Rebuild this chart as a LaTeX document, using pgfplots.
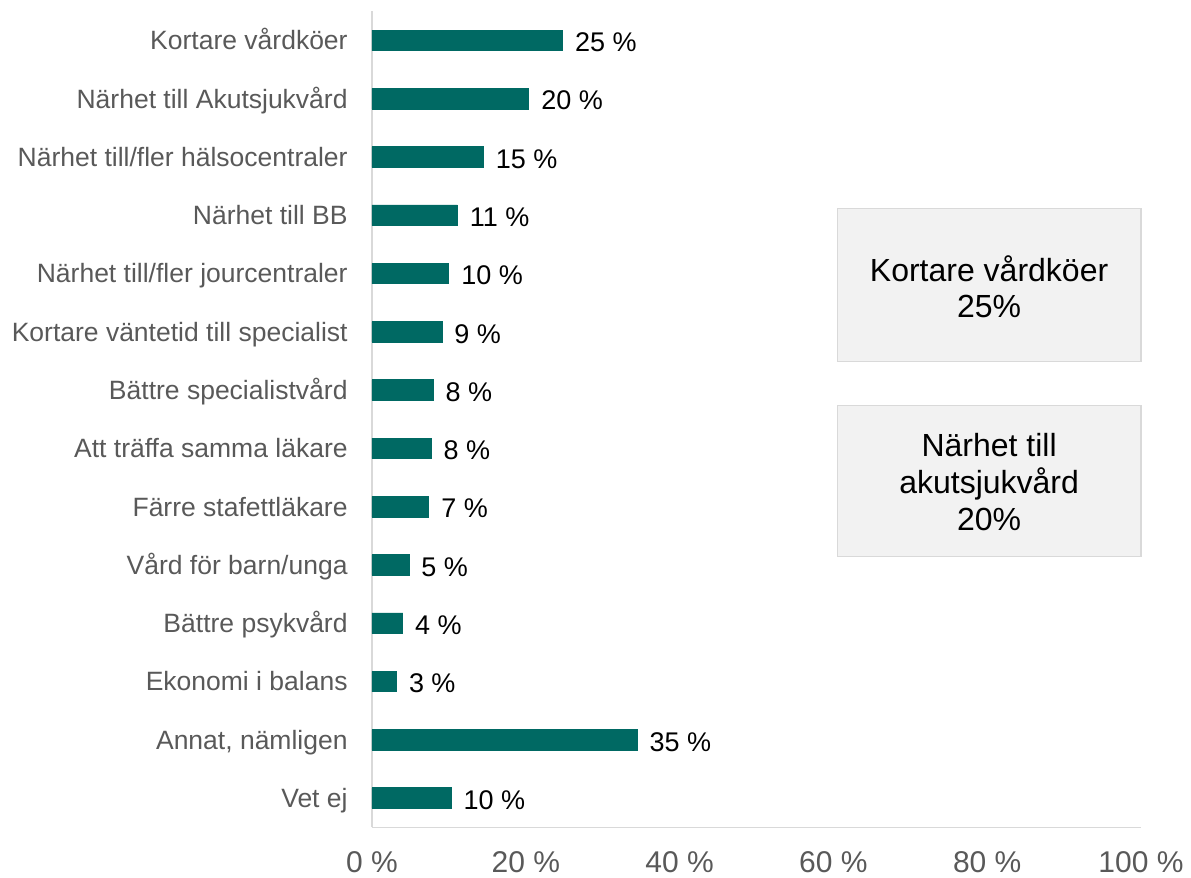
\documentclass[border=0pt]{standalone}
\usepackage{pgfplots}
\pgfplotsset{compat=1.18}
\usepackage{pgfplotstable}
\usepackage{fontspec}
\setmainfont{Liberation Sans}
\definecolor{barcol}{HTML}{006963}
\definecolor{axgray}{HTML}{D9D9D9}
\definecolor{labgray}{HTML}{595959}
\definecolor{boxfill}{HTML}{F2F2F2}
\definecolor{boxedge}{HTML}{D9D9D9}
\pgfplotstableread{
val pos lab
24.8 13 {25 \%}
20.4 12 {20 \%}
14.5 11 {15 \%}
11.1 10 {11 \%}
10.0 9 {10 \%}
9.1 8 {9 \%}
7.95 7 {8 \%}
7.7 6 {8 \%}
7.4 5 {7 \%}
4.8 4 {5 \%}
4.0 3 {4 \%}
3.2 2 {3 \%}
34.5 1 {35 \%}
10.3 0 {10 \%}
}\datatable
\begin{document}
\begin{tikzpicture}
\path[use as bounding box] (-186pt,-25.35pt) rectangle (409.5pt,413.65pt);
\begin{axis}[
  scale only axis, width=384.5pt, height=408pt,
  xmin=0, xmax=100, ymin=-0.5, ymax=13.5,
  axis x line*=bottom, axis y line*=left,
  axis line style={draw=axgray, line width=0.75pt, -},
  xtick={0,20,40,60,80,100},
  xticklabels={0 \%,20 \%,40 \%,60 \%,80 \%,100 \%},
  ytick={0,...,13},
  yticklabels={Vet ej,{Annat, nämligen},Ekonomi i balans,Bättre psykvård,Vård för barn/unga,Färre stafettläkare,Att träffa samma läkare,Bättre specialistvård,Kortare väntetid till specialist,Närhet till/fler jourcentraler,Närhet till BB,Närhet till/fler hälsocentraler,Närhet till Akutsjukvård,Kortare vårdköer},
  major tick length=0pt,
  xticklabel style={font=\fontsize{15}{18}\selectfont, text=labgray, inner sep=0pt, anchor=base, yshift=-22.7pt},
  yticklabel style={font=\fontsize{13.25}{16}\selectfont, text=labgray, inner sep=0pt, anchor=base east, xshift=-12pt, yshift=-4.7pt},
  xbar, bar width=10.3pt,
  nodes near coords, point meta=explicit symbolic,
  every node near coord/.append style={font=\fontsize{13.5}{16}\selectfont, text=black, inner sep=0pt, anchor=base west, xshift=6pt, yshift=-5.6pt},
  clip=false,
]
\addplot[fill=barcol, draw=barcol] table[x=val, y=pos, meta=lab] {\datatable};
\draw[fill=boxfill, draw=boxedge, line width=0.6pt] (axis cs:60.5,10.11) rectangle (axis cs:100,7.49);
\node[align=center, font=\fontsize{16}{18}\selectfont, text=black] at (axis cs:80.25,8.78) {Kortare vårdköer\\25\%};
\draw[fill=boxfill, draw=boxedge, line width=0.6pt] (axis cs:60.5,6.74) rectangle (axis cs:100,4.14);
\node[align=center, font=\fontsize{16}{18.6}\selectfont, text=black] at (axis cs:80.25,5.42) {Närhet till\\akutsjukvård\\20\%};
\end{axis}
\end{tikzpicture}
\end{document}
